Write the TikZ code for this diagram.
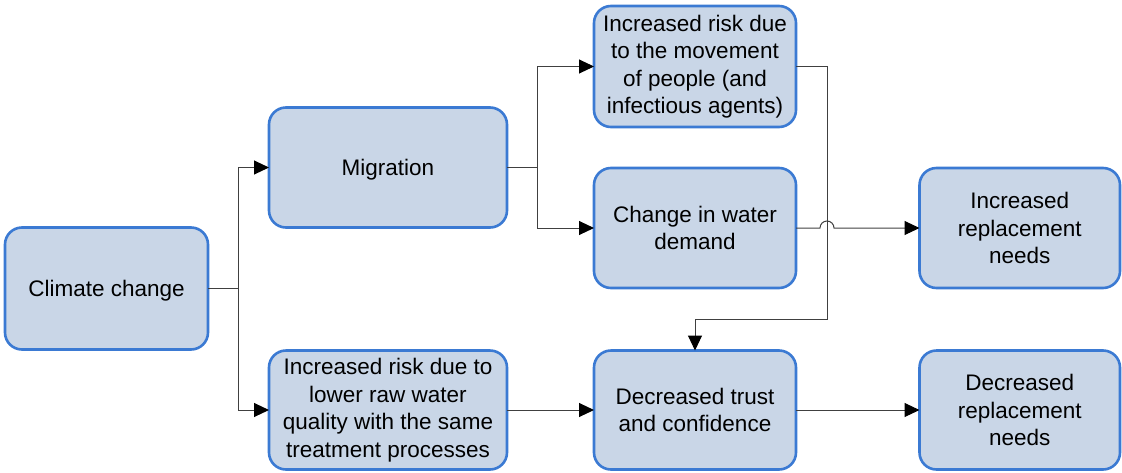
\documentclass[tikz,border=0pt]{standalone}
\usepackage{fontspec}
\setmainfont{Liberation Sans}
\usetikzlibrary{arrows.meta,calc}
\definecolor{boxblue}{HTML}{3B7AD3}
\definecolor{boxfill}{HTML}{C9D6E7}
\definecolor{linegray}{HTML}{404040}
\begin{document}
\begin{tikzpicture}[x=1pt,y=-1pt,
  box/.style={draw=boxblue, line width=2.6pt, fill=boxfill, rounded corners=17pt,
    align=center, inner sep=0pt, outer sep=0pt,
    font=\fontsize{22.5}{27.5}\selectfont},
  oneline/.style={text depth=0pt},
  conn/.style={draw=linegray, line width=1pt},
  arr/.style={conn, -{Triangle[length=15pt,width=14pt,color=black]}}]
\useasboundingbox (0,0) rectangle (1122,472);
\node[box, oneline, minimum width=203pt, minimum height=122pt] (cc) at (106.5,288.5) {Climate change};
\node[box, oneline, minimum width=238pt, minimum height=120pt] (mig) at (388,167.5) {Migration};
\node[box, minimum width=238pt, minimum height=119pt] (low) at (388,410) {Increased risk due to\\lower raw water\\quality with the same\\treatment processes};
\node[box, minimum width=202pt, minimum height=121pt] (mov) at (695,66.5) {Increased risk due\\to the movement\\of people (and\\infectious agents)};
\node[box, minimum width=202pt, minimum height=120pt] (dem) at (695,228) {Change in water\\demand};
\node[box, minimum width=202pt, minimum height=119pt] (trust) at (695,410) {Decreased trust\\and confidence};
\node[box, minimum width=200.5pt, minimum height=120pt] (incr) at (1019.75,228) {Increased\\replacement\\needs};
\node[box, minimum width=200.5pt, minimum height=119pt] (decr) at (1019.75,410) {Decreased\\replacement\\needs};
\coordinate (b1) at (238,288.5);
\coordinate (b2) at (537,167.5);
\coordinate (j) at (827,228);
\coordinate (c1) at (827,319);
\draw[conn] (cc.east) -- (b1);
\draw[arr] (b1) |- (mig.west);
\draw[arr] (b1) |- (low.west);
\draw[conn] (mig.east) -- (b2);
\draw[arr] (b2) |- (mov.west);
\draw[arr] (b2) |- (dem.west);
\draw[arr] (dem.east) -- ($(j)+(-7,0)$) arc[start angle=180, end angle=0, radius=7pt] -- (incr.west);
\draw[arr] (mov.east) -| (c1) -| (trust.north);
\draw[arr] (low.east) -- (trust.west);
\draw[arr] (trust.east) -- (decr.west);
\end{tikzpicture}
\end{document}
